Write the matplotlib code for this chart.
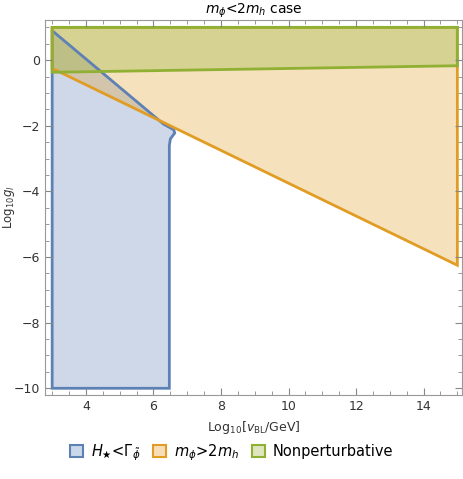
import numpy as np
import matplotlib.pyplot as plt
from matplotlib.patches import Patch
from matplotlib.ticker import MultipleLocator

# region outlines (x = Log10 vBL/GeV, y = Log10 g_l)
blue_x = [3.0, 3.0, 6.3, 6.6, 6.63, 6.5, 6.47, 6.47]
blue_y = [-10.0, 0.9, -1.95, -2.12, -2.22, -2.4, -2.6, -10.0]

orange_x = [3.0, 15.0, 15.0, 3.0]
orange_y = [-0.25, -6.25, 1.0, 1.0]

green_x = [3.0, 15.0, 15.0, 3.0]
green_y = [-0.37, -0.17, 1.0, 1.0]

labels = [r"$H_{\bigstar}$<$\Gamma_{\tilde{\phi}}$", r"$m_{\phi}$>2$m_h$", "Nonperturbative"]
edge_colors = ["#5E81B5", "#E19C24", "#8FB032"]
face_colors = ["#cbd8ea", "#f8deb8", "#dfe6bf"]

fig = plt.figure(figsize=(4.63, 4.79), dpi=100)
ax = fig.add_axes([0.097, 0.175, 0.901, 0.784])

regions = [(blue_x, blue_y), (orange_x, orange_y), (green_x, green_y)]
for (xs, ys), ec in zip(regions, edge_colors):
    ax.fill(xs, ys, facecolor=ec, alpha=0.3, edgecolor="none")
for (xs, ys), ec in zip(regions, edge_colors):
    ax.fill(xs, ys, facecolor="none", edgecolor=ec, linewidth=2)

ax.set_xlim(2.785, 15.14)
ax.set_ylim(-10.21, 1.235)
ax.xaxis.set_major_locator(MultipleLocator(2))
ax.xaxis.set_minor_locator(MultipleLocator(0.5))
ax.yaxis.set_major_locator(MultipleLocator(2))
ax.yaxis.set_minor_locator(MultipleLocator(0.5))
ax.tick_params(which="both", direction="in", top=True, right=True, colors="#888888",
               labelcolor="#333333", labelsize=9)
ax.tick_params(which="major", length=5)
ax.tick_params(which="minor", length=3)
for s in ax.spines.values():
    s.set_color("#999999")

ax.set_xlabel(r"Log$_{10}$[$v_{\rm BL}$/GeV]", fontsize=9, color="#333333")
ax.set_ylabel(r"Log$_{10}g_l$", fontsize=8.5, color="#333333")
ax.yaxis.set_label_coords(-0.068, 0.5)
ax.set_title(r"$m_{\phi}$<2$m_h$ case", fontsize=10, pad=3)

handles = [Patch(facecolor=fc, edgecolor=ec, linewidth=1.5) for ec, fc in zip(edge_colors, face_colors)]
fig.legend(handles, labels, loc="center", bbox_to_anchor=(0.5, 0.055), ncol=3, frameon=False,
           fontsize=10.5, handlelength=0.9, handleheight=0.9, handletextpad=0.5, columnspacing=0.9)

fig.savefig("out.png", dpi=100)
